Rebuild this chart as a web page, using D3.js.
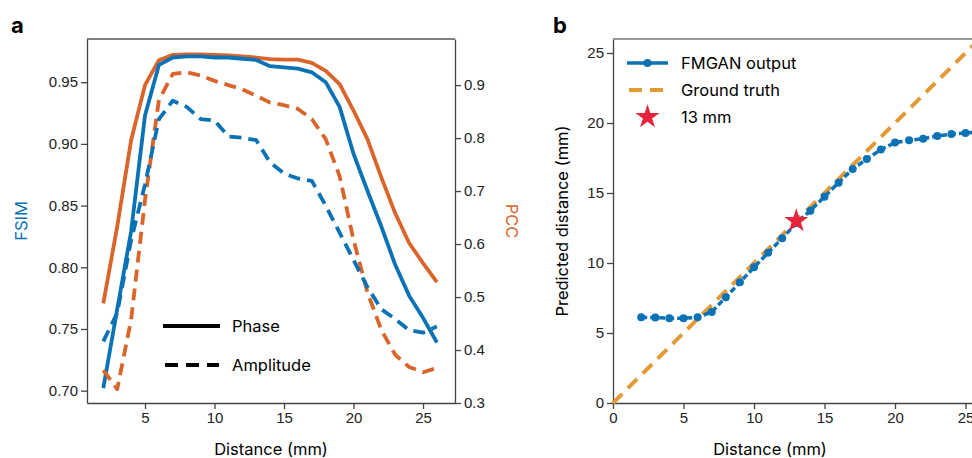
<!DOCTYPE html>
<html>
<head>
<meta charset="utf-8">
<script src="https://cdn.jsdelivr.net/npm/d3@7"></script>
<style>
  body { margin: 0; background: #fff; }
  svg { font-family: Inter, "Liberation Sans", sans-serif; }
  .tick text { fill: #222; }
  .tick line, .domain { stroke: #444; stroke-width: 1.3; }
</style>
</head>
<body>
<div id="chart"></div>
<script>
// panel a : image similarity vs distance
var distA = [2,3,4,5,6,7,8,9,10,11,12,13,14,15,16,17,18,19,20,21,22,23,24,25,26];
var fsimPhase = [0.702,0.766,0.829,0.923,0.964,0.970,0.971,0.971,0.970,0.970,0.969,0.968,0.963,0.962,0.961,0.958,0.950,0.930,0.892,0.862,0.833,0.802,0.777,0.759,0.739];
var fsimAmp   = [0.740,0.763,0.822,0.867,0.920,0.935,0.930,0.920,0.919,0.906,0.905,0.903,0.885,0.876,0.872,0.870,0.850,0.828,0.806,0.784,0.766,0.758,0.749,0.747,0.752];
var pccPhase  = [0.488,0.633,0.796,0.900,0.947,0.957,0.958,0.958,0.957,0.956,0.954,0.952,0.949,0.948,0.948,0.942,0.927,0.902,0.852,0.798,0.726,0.658,0.602,0.564,0.528];
var pccAmp    = [0.362,0.326,0.457,0.683,0.872,0.921,0.924,0.918,0.908,0.900,0.892,0.880,0.867,0.862,0.855,0.836,0.798,0.728,0.608,0.509,0.438,0.391,0.368,0.358,0.366];
var ticksAX = [5,10,15,20,25];
var ticksFsim = [0.70,0.75,0.80,0.85,0.90,0.95];
var ticksPcc = [0.3,0.4,0.5,0.6,0.7,0.8,0.9];

// panel b : predicted distance
var distB = [2,3,4,5,6,7,8,9,10,11,12,13,14,15,16,17,18,19,20,21,22,23,24,25,26];
var predicted = [6.12,6.1,6.05,6.05,6.12,6.5,7.55,8.62,9.69,10.74,11.76,12.85,13.74,14.74,15.74,16.71,17.43,18.1,18.6,18.76,18.88,19.07,19.21,19.29,19.35];
var truthX = [0,27];
var truthY = [0,27];
var marked = [{x:13, y:13}];
var ticksB = [0,5,10,15,20,25];

var blue = "#0b72b5", orange = "#d9652b", gold = "#e39a35", red = "#e8233c";
var tickSize = 15, labelSize = 16.5;

var svg = d3.select("#chart").append("svg")
  .attr("width", 972).attr("height", 458);

// ---------- panel a ----------
var xa = d3.scaleLinear().domain([0.827, 27.3]).range([87, 455]);
var yl = d3.scaleLinear().domain([0.69, 0.985]).range([403, 39]);
var yr = d3.scaleLinear().domain([0.3, 0.987]).range([403, 39]);

svg.append("g").attr("transform", "translate(0,403)")
  .call(d3.axisBottom(xa).tickValues(ticksAX).tickSize(6).tickSizeOuter(0));
svg.append("g").attr("transform", "translate(87,0)")
  .call(d3.axisLeft(yl).tickValues(ticksFsim).tickFormat(d3.format(".2f")).tickSize(6).tickSizeOuter(0));
svg.append("g").attr("transform", "translate(455,0)")
  .call(d3.axisRight(yr).tickValues(ticksPcc).tickFormat(d3.format(".1f")).tickSize(6).tickSizeOuter(0));
svg.append("line").attr("x1", 87).attr("x2", 455).attr("y1", 39).attr("y2", 39)
  .attr("stroke", "#555").attr("stroke-width", 1.3);

var lineL = d3.line().x(function(d, i){ return xa(distA[i]); }).y(function(d){ return yl(d); });
var lineR = d3.line().x(function(d, i){ return xa(distA[i]); }).y(function(d){ return yr(d); });

function curve(data, gen, color, dashed) {
  svg.append("path").datum(data).attr("d", gen)
    .attr("fill", "none").attr("stroke", color).attr("stroke-width", 3.8)
    .attr("stroke-linejoin", "round")
    .attr("stroke-dasharray", dashed ? "12,7" : null);
}
curve(pccPhase, lineR, orange, false);
curve(fsimPhase, lineL, blue, false);
curve(pccAmp, lineR, orange, true);
curve(fsimAmp, lineL, blue, true);

// legend a
svg.append("line").attr("x1", 163).attr("x2", 220).attr("y1", 326).attr("y2", 326)
  .attr("stroke", "#000").attr("stroke-width", 4);
svg.append("line").attr("x1", 165).attr("x2", 219).attr("y1", 365).attr("y2", 365)
  .attr("stroke", "#000").attr("stroke-width", 4).attr("stroke-dasharray", "13,8");
svg.append("text").attr("x", 232).attr("y", 332).attr("font-size", labelSize).text("Phase");
svg.append("text").attr("x", 232).attr("y", 371).attr("font-size", labelSize).text("Amplitude");

svg.append("text").attr("x", 271).attr("y", 455).attr("text-anchor", "middle")
  .attr("font-size", labelSize).text("Distance (mm)");
svg.append("text").attr("transform", "translate(27,221) rotate(-90)")
  .attr("text-anchor", "middle").attr("font-size", labelSize).attr("fill", blue).text("FSIM");
svg.append("text").attr("transform", "translate(506,221) rotate(90)")
  .attr("text-anchor", "middle").attr("font-size", labelSize).attr("fill", orange).text("PCC");
svg.append("text").attr("x", 11).attr("y", 33).attr("font-size", 22)
  .attr("font-weight", "bold").text("a");

// ---------- panel b ----------
var xb = d3.scaleLinear().domain([0, 27]).range([613, 993.7]);
var yb = d3.scaleLinear().domain([0, 26]).range([403, 39]);

svg.append("g").attr("transform", "translate(0,403)")
  .call(d3.axisBottom(xb).tickValues(ticksB).tickSize(6).tickSizeOuter(0));
svg.append("g").attr("transform", "translate(613,0)")
  .call(d3.axisLeft(yb).tickValues(ticksB).tickSize(6).tickSizeOuter(0));
svg.append("line").attr("x1", 613).attr("x2", 994).attr("y1", 39).attr("y2", 39)
  .attr("stroke", "#777").attr("stroke-width", 1.3);
svg.selectAll(".tick text").attr("font-size", tickSize);

svg.append("path")
  .datum(truthX.map(function(d, i){ return [d, truthY[i]]; }))
  .attr("d", d3.line().x(function(d){ return xb(d[0]); }).y(function(d){ return yb(d[1]); }))
  .attr("fill", "none").attr("stroke", gold).attr("stroke-width", 4)
  .attr("stroke-dasharray", "13,8");

svg.append("path").datum(predicted)
  .attr("d", d3.line().x(function(d, i){ return xb(distB[i]); }).y(function(d){ return yb(d); }))
  .attr("fill", "none").attr("stroke", blue).attr("stroke-width", 3.5)
  .attr("stroke-dasharray", "6,3");
svg.selectAll(".dot").data(predicted).enter().append("circle")
  .attr("cx", function(d, i){ return xb(distB[i]); })
  .attr("cy", function(d){ return yb(d); })
  .attr("r", 4).attr("fill", blue);

svg.selectAll(".star").data(marked).enter().append("path")
  .attr("d", d3.symbol().type(d3.symbolStar).size(180))
  .attr("transform", function(d){ return "translate(" + xb(d.x) + "," + yb(d.y) + ")"; })
  .attr("fill", red);

// legend b
svg.append("line").attr("x1", 627).attr("x2", 668).attr("y1", 63).attr("y2", 63)
  .attr("stroke", blue).attr("stroke-width", 3.5);
svg.append("circle").attr("cx", 647.5).attr("cy", 63).attr("r", 4).attr("fill", blue);
svg.append("line").attr("x1", 629).attr("x2", 668).attr("y1", 90).attr("y2", 90)
  .attr("stroke", gold).attr("stroke-width", 4).attr("stroke-dasharray", "13,8");
svg.append("path").attr("d", d3.symbol().type(d3.symbolStar).size(180))
  .attr("transform", "translate(647.5,117)").attr("fill", red);
svg.append("text").attr("x", 681).attr("y", 69).attr("font-size", labelSize).text("FMGAN output");
svg.append("text").attr("x", 681).attr("y", 96).attr("font-size", labelSize).text("Ground truth");
svg.append("text").attr("x", 681).attr("y", 123).attr("font-size", labelSize).text("13 mm");

svg.append("text").attr("x", 770).attr("y", 455).attr("text-anchor", "middle")
  .attr("font-size", labelSize).text("Distance (mm)");
svg.append("text").attr("transform", "translate(568,221) rotate(-90)")
  .attr("text-anchor", "middle").attr("font-size", labelSize).text("Predicted distance (mm)");
svg.append("text").attr("x", 553).attr("y", 33).attr("font-size", 22)
  .attr("font-weight", "bold").text("b");
</script>
</body>
</html>
